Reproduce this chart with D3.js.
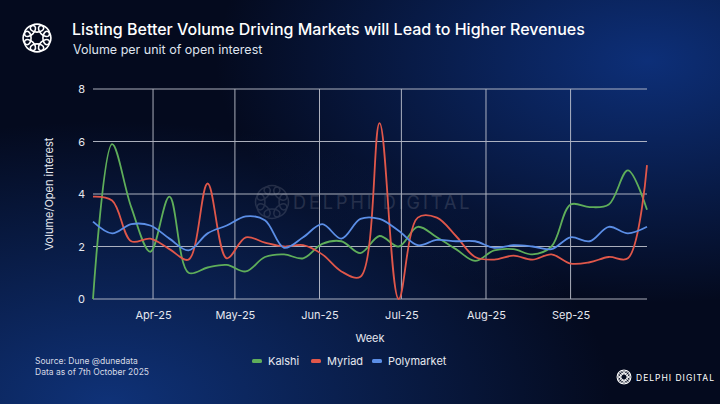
<!DOCTYPE html>
<html>
<head>
<meta charset="utf-8">
<script src="https://cdn.jsdelivr.net/npm/d3@7"></script>
<style>
  body { margin: 0; background: #050b22; }
  svg { display: block; font-family: Inter, "Noto Sans", sans-serif; }
</style>
</head>
<body>
<div id="chart"></div>
<script>
var weeks = ["2025-03-10","2025-03-17","2025-03-24","2025-03-31","2025-04-07","2025-04-14","2025-04-21","2025-04-28",
  "2025-05-05","2025-05-12","2025-05-19","2025-05-26","2025-06-02","2025-06-09","2025-06-16","2025-06-23","2025-06-30",
  "2025-07-07","2025-07-14","2025-07-21","2025-07-28","2025-08-04","2025-08-11","2025-08-18","2025-08-25",
  "2025-09-01","2025-09-08","2025-09-15","2025-09-22","2025-09-29"];
var kalshi = [0, 5.9, 3.5, 1.8, 3.9, 1.0, 1.2, 1.3, 1.05, 1.6, 1.7, 1.55, 2.1, 2.2, 1.75, 2.4, 2.0,
  2.75, 2.35, 1.9, 1.45, 1.85, 1.9, 1.7, 2.0, 3.6, 3.5, 3.6, 4.9, 3.4];
var myriad = [3.9, 3.75, 2.2, 2.3, 1.9, 1.5, 4.4, 1.55, 2.35, 2.15, 2.0, 2.05, 1.7, 1.05, 0.85, 6.7, 0,
  3.1, 3.1, 2.4, 1.6, 1.5, 1.65, 1.5, 1.7, 1.35, 1.4, 1.6, 1.55, 5.1];
var polymarket = [2.95, 2.5, 2.85, 2.8, 2.3, 1.85, 2.5, 2.8, 3.15, 3.0, 1.95, 2.35, 2.85, 2.3, 3.05, 3.05, 2.6,
  2.05, 2.25, 2.2, 2.2, 1.95, 2.05, 2.0, 1.9, 2.35, 2.2, 2.75, 2.5, 2.75];
var seriesNames = ["Kalshi", "Myriad", "Polymarket"];
var seriesColors = ["#5fae5a", "#e0574a", "#5b8ee6"];
var yTicks = [0, 2, 4, 6, 8];
var monthTicks = ["2025-04-01","2025-05-01","2025-06-01","2025-07-01","2025-08-01","2025-09-01"];

var W = 720, H = 404;
var parse = d3.timeParse("%Y-%m-%d");
var dates = weeks.map(parse);
var svg = d3.select("#chart").append("svg").attr("width", W).attr("height", H);

var defs = svg.append("defs");
var g1 = defs.append("radialGradient").attr("id", "bg1").attr("cx", "0.15").attr("cy", "1").attr("r", "0.7");
g1.append("stop").attr("offset", "0").attr("stop-color", "#0f3278");
g1.append("stop").attr("offset", "1").attr("stop-color", "#0f3278").attr("stop-opacity", 0);
var g2 = defs.append("radialGradient").attr("id", "bg2").attr("cx", "0.9").attr("cy", "0.15").attr("r", "0.6");
g2.append("stop").attr("offset", "0").attr("stop-color", "#0d2f78");
g2.append("stop").attr("offset", "1").attr("stop-color", "#0d2f78").attr("stop-opacity", 0);
svg.append("rect").attr("width", W).attr("height", H).attr("fill", "#040a1e");
svg.append("rect").attr("width", W).attr("height", H).attr("fill", "url(#bg1)");
svg.append("rect").attr("width", W).attr("height", H).attr("fill", "url(#bg2)");

// logo glyph
function logo(cx, cy, r, sw, op) {
  var lg = svg.append("g").attr("transform", "translate(" + cx + "," + cy + ")").attr("opacity", op);
  d3.range(8).forEach(function(i) {
    lg.append("ellipse").attr("transform", "rotate(" + (i * 45) + ") translate(0," + (-r * 0.62) + ")")
      .attr("rx", r * 0.42).attr("ry", r * 0.25).attr("fill", "none").attr("stroke", "#fff").attr("stroke-width", sw);
  });
}
logo(37, 38, 16, 1.6, 1);
logo(272, 202, 19, 1.5, 0.12);
svg.append("text").attr("x", 293).attr("y", 209).attr("fill", "#fff").attr("opacity", 0.12)
  .attr("font-size", 18).attr("letter-spacing", 3).text("DELPHI DIGITAL");

svg.append("text").attr("x", 72).attr("y", 35).attr("fill", "#fff").attr("font-size", 16).attr("font-weight", 500)
  .text("Listing Better Volume Driving Markets will Lead to Higher Revenues");
svg.append("text").attr("x", 73).attr("y", 54).attr("fill", "#dfe3ee").attr("font-size", 12.5)
  .text("Volume per unit of open interest");

var x = d3.scaleTime().domain([dates[0], dates[dates.length - 1]]).range([93, 647]);
var y = d3.scaleLinear().domain([0, 8]).range([299, 89]);

var grid = svg.append("g").attr("stroke", "#c9ccd6").attr("stroke-width", 1).attr("opacity", 0.85);
yTicks.forEach(function(t) {
  grid.append("line").attr("x1", 93).attr("x2", 647).attr("y1", y(t)).attr("y2", y(t));
});
monthTicks.forEach(function(t) {
  grid.append("line").attr("x1", x(parse(t))).attr("x2", x(parse(t))).attr("y1", 89).attr("y2", 299);
});

var yAxis = svg.append("g").attr("transform", "translate(93,0)")
  .call(d3.axisLeft(y).tickValues(yTicks).tickSize(0).tickPadding(8));
var xAxis = svg.append("g").attr("transform", "translate(0,299)")
  .call(d3.axisBottom(x).tickValues(monthTicks.map(parse)).tickFormat(d3.timeFormat("%b-%y")).tickSize(0).tickPadding(12));
[yAxis, xAxis].forEach(function(a) {
  a.select(".domain").remove();
  a.selectAll("text").attr("fill", "#e6e8ef").attr("font-size", 11).attr("font-family", "Inter, sans-serif");
});

svg.append("text").attr("transform", "translate(53,194) rotate(-90)").attr("text-anchor", "middle")
  .attr("fill", "#e6e8ef").attr("font-size", 11).text("Volume/Open interest");
svg.append("text").attr("x", 370).attr("y", 342).attr("text-anchor", "middle")
  .attr("fill", "#e6e8ef").attr("font-size", 11).text("Week");

var line = d3.line().x(function(d, i) { return x(dates[i]); }).y(function(d) { return y(d); })
  .curve(d3.curveCatmullRom.alpha(0.5));
[kalshi, myriad, polymarket].forEach(function(s, k) {
  svg.append("path").datum(s).attr("d", line).attr("fill", "none")
    .attr("stroke", seriesColors[k]).attr("stroke-width", 1.8);
});

var legX = [252, 311, 372];
seriesNames.forEach(function(n, k) {
  svg.append("rect").attr("x", legX[k]).attr("y", 359).attr("width", 10).attr("height", 4).attr("rx", 1.5)
    .attr("fill", seriesColors[k]);
  svg.append("text").attr("x", legX[k] + 16).attr("y", 365).attr("fill", "#e6e8ef").attr("font-size", 11).text(n);
});

svg.append("text").attr("x", 35).attr("y", 364).attr("fill", "#d6dae6").attr("font-size", 8.5).text("Source: Dune @dunedata");
svg.append("text").attr("x", 35).attr("y", 375).attr("fill", "#d6dae6").attr("font-size", 8.5).text("Data as of 7th October 2025");

logo(624, 377, 8, 1, 1);
svg.append("text").attr("x", 636).attr("y", 381).attr("fill", "#fff").attr("font-size", 8.5)
  .attr("letter-spacing", 1).text("DELPHI DIGITAL");
</script>
</body>
</html>
